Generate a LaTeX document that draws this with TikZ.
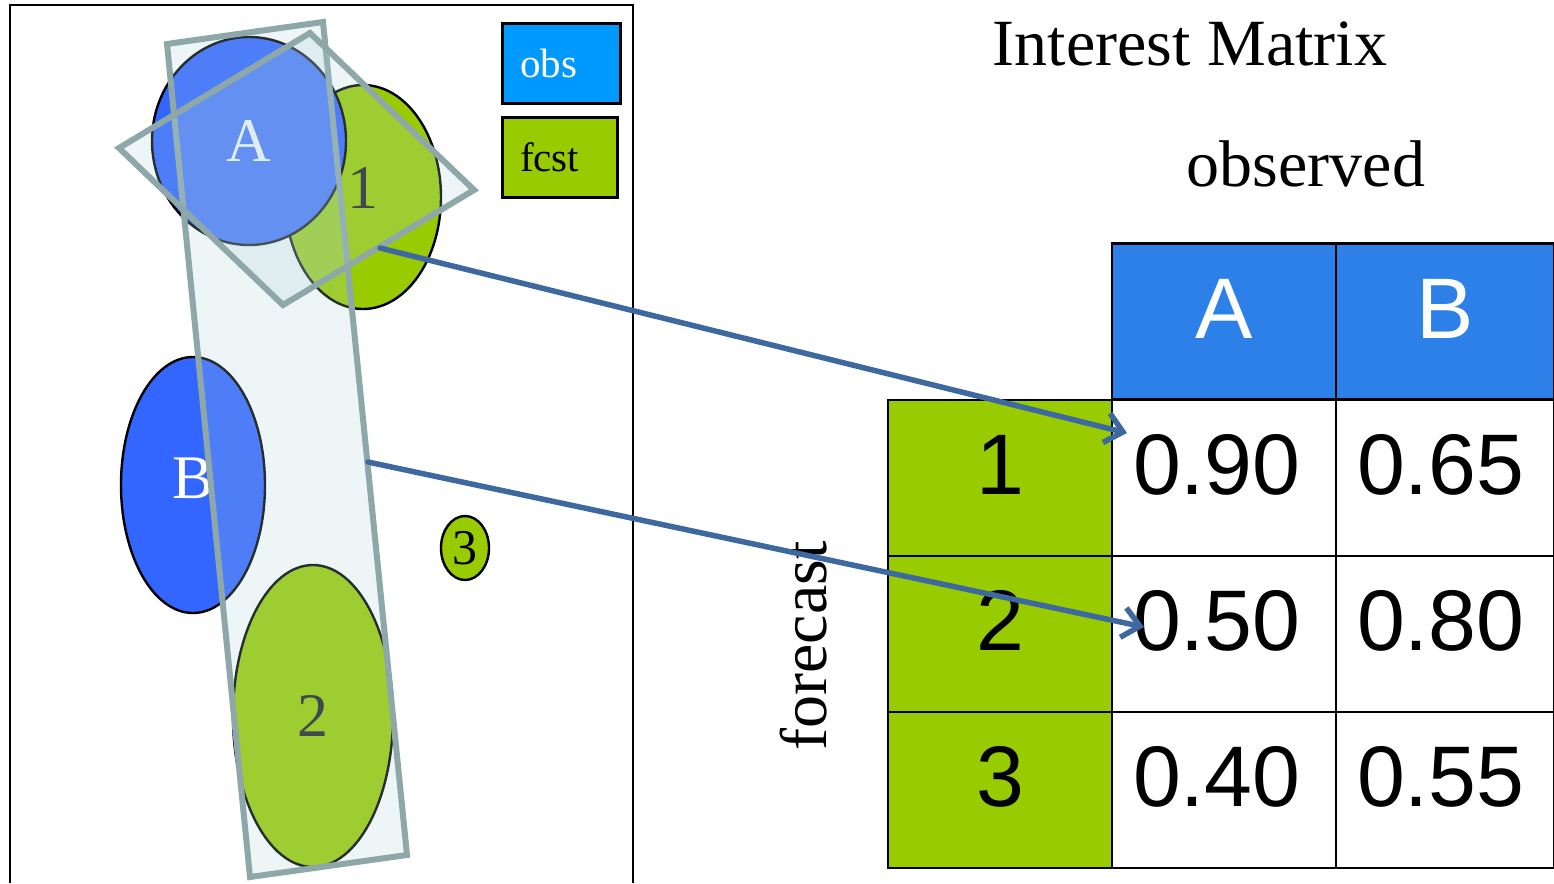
\documentclass[tikz,border=0pt]{standalone}
\usepackage{fontspec}
\setmainfont{Liberation Serif}
\newfontfamily\arialf{Liberation Sans}
\usetikzlibrary{arrows.meta,shapes.geometric}
\definecolor{obsblue}{HTML}{0099FF}
\definecolor{fcstgreen}{HTML}{99CC00}
\definecolor{blobblue}{HTML}{3366FF}
\definecolor{headblue}{HTML}{2D80E8}
\definecolor{arrowblue}{RGB}{61,105,160}
\definecolor{ovstroke}{RGB}{142,168,170}
\definecolor{ovfill}{RGB}{175,212,222}
\definecolor{darktext}{HTML}{222222}
\begin{document}
\begin{tikzpicture}[x=1pt,y=-1pt,
  every node/.style={inner sep=0pt,outer sep=0pt},
  blob/.style={ellipse,draw=black,line width=2.4pt},
  blobA/.style={blob,fill=blobblue,text=white,font=\fontsize{62}{64}\selectfont},
  blobF/.style={blob,fill=fcstgreen,text=darktext,font=\fontsize{62}{64}\selectfont},
  overlaybox/.style={draw=ovstroke,line width=6pt,fill=ovfill,fill opacity=0.22,line join=miter},
  legendbox/.style={draw=black,line width=3pt,inner xsep=18pt,align=left,font=\fontsize{41}{44}\selectfont},
  serifbig/.style={font=\fontsize{66}{70}\selectfont,anchor=base},
  cell/.style={draw=black,line width=2.5pt,minimum height=156pt,text height=62pt,text depth=29pt,font=\arialf\fontsize{86}{90}\selectfont},
  headcell/.style={cell,fill=headblue,text=white,minimum width=224pt},
  rowcell/.style={cell,fill=fcstgreen,text=black,minimum width=224pt},
  valcell/.style={cell,fill=white,text=black,inner xsep=21pt,align=left},
  connector/.style={draw=arrowblue,line width=5.5pt,line cap=round,-{Straight Barb[length=17pt,width=30pt,line width=5.5pt]}}
]
\useasboundingbox (0,0) rectangle (1554,883);
\fill[white] (0,0) rectangle (1554,883);

% frame of the map panel
\draw[line width=2.5pt] (10,883) -- (10,5) -- (633,5) -- (633,883);

% objects
\node[blobF,minimum width=156pt,minimum height=224pt,text depth=18pt] (f1) at (363,197) {1};
\node[blobA,minimum width=194pt,minimum height=208pt] (oA) at (249,141) {A};
\node[blobA,minimum width=144pt,minimum height=256pt,text depth=14pt] (oB) at (193,485) {B};
\node[blobF,minimum width=160pt,minimum height=302pt] (f2) at (313,716) {2};
\node[blob,fill=fcstgreen,text=black,minimum width=48pt,minimum height=64pt,font=\fontsize{50}{52}\selectfont] (f3) at (465,548) {3};

% translucent matching regions
\filldraw[overlaybox] (167,44) -- (323,22) -- (407,855) -- (250,877) -- cycle;
\filldraw[overlaybox] (119,148) -- (310,33) -- (474,190) -- (283,305) -- cycle;

% legend
\node[legendbox,fill=obsblue,text=white,minimum width=118pt,minimum height=79pt,text width=82pt] (lobs) at (561,63.5) {obs};
\node[legendbox,fill=fcstgreen,text=black,minimum width=115pt,minimum height=80pt,text width=79pt] (lfcst) at (559.5,157) {fcst};

% titles
\node[serifbig] (title) at (1190,66) {Interest Matrix};
\node[serifbig] (obslabel) at (1306,186) {observed};
\node[serifbig,rotate=90] (fcstlabel) at (826,646) {forecast};

% table
\node[headcell] (hA) at (1224,321.5) {A};
\node[headcell,minimum width=218pt] (hB) at (1445,321.5) {B};
\node[rowcell] (r1) at (1000,478) {1};
\node[rowcell] (r2) at (1000,634) {2};
\node[rowcell] (r3) at (1000,790) {3};
\node[valcell,text width=182pt] (v1A) at (1224,478) {0.90};
\node[valcell,text width=176pt] (v1B) at (1445,478) {0.65};
\node[valcell,text width=182pt] (v2A) at (1224,634) {0.50};
\node[valcell,text width=176pt] (v2B) at (1445,634) {0.80};
\node[valcell,text width=182pt] (v3A) at (1224,790) {0.40};
\node[valcell,text width=176pt] (v3B) at (1445,790) {0.55};

% connectors
\coordinate (s1) at (380,248);
\coordinate (t1) at (1127,433);
\coordinate (s2) at (368,462);
\coordinate (t2) at (1144,627);
\draw[connector] (s1) -- (t1);
\draw[connector] (s2) -- (t2);
\end{tikzpicture}
\end{document}
